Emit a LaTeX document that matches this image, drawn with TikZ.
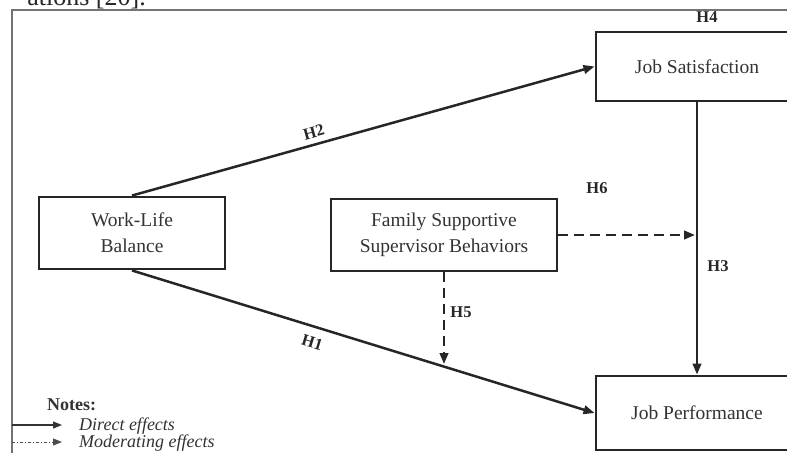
\documentclass[tikz,border=0pt]{standalone}
\usepackage{fontspec}
\setmainfont{Liberation Serif}
\usetikzlibrary{arrows.meta}
\tikzset{
  box/.style={draw=black!85, line width=2.9pt, inner sep=0pt, align=center, font=\fontsize{19.5}{26}\selectfont, text=black!80},
  conn/.style={line width=2.5pt, draw=black!85, -{Triangle[length=11pt,width=8.5pt]}},
  modconn/.style={conn, dash pattern=on 10pt off 6pt},
  hlab/.style={font=\bfseries\fontsize{16.5}{16.5}\selectfont, text=black!85},
  frame/.style={draw=black!55, line width=1.4pt},
  note/.style={font=\itshape\fontsize{18}{18}\selectfont, text=black!80, anchor=west}
}
\begin{document}
\begin{tikzpicture}[x=1pt,y=-1pt]
\useasboundingbox (0,0) rectangle (787,453);
\clip (0,0) rectangle (787,453);
\fill[white] (0,0) rectangle (787,453);
% fragment of surrounding text
\node[anchor=base east, font=\fontsize{26}{26}\selectfont, inner sep=0pt, text=black!85] (frag) at (146,5) {ations [20].};
% frame
\coordinate (fr0) at (12,453);
\coordinate (fr1) at (12,10);
\coordinate (fr2) at (787,10);
\draw[frame] (fr0) -- (fr1) -- (fr2);
% boxes
\node[box, minimum width=186pt, minimum height=72pt] (wlb) at (132,233) {Work-Life\\Balance};
\node[box, minimum width=226pt, minimum height=72pt] (fssb) at (444,235) {Family Supportive\\Supervisor Behaviors};
\node[box, minimum width=202pt, minimum height=69pt] (js) at (697,66.5) {Job Satisfaction};
\node[box, minimum width=202pt, minimum height=74pt] (jp) at (697,413) {Job Performance};
% connectors
\draw[conn] (wlb.north) -- node[pos=0.4, above, sloped, hlab, yshift=2pt] (h2) {H2} (js.west);
\draw[conn] (wlb.south) -- node[pos=0.4, below, sloped, hlab, yshift=-6pt] (h1) {H1} (jp.west);
\draw[conn] (js.south) -- (jp.north);
\coordinate (m6) at (695,235);
\draw[modconn] (fssb.east) -- (m6);
\coordinate (m5) at (444,364);
\draw[modconn] (fssb.south) -- (m5);
% labels
\node[hlab] (h4) at (707,17) {H4};
\node[hlab] (h6) at (597,188) {H6};
\node[hlab] (h3) at (718,266) {H3};
\node[hlab] (h5) at (461,312) {H5};
% notes
\node[anchor=west, font=\bfseries\fontsize{18}{18}\selectfont, text=black!80, inner sep=0pt] (notes) at (47,405) {Notes:};
\coordinate (l1a) at (12,425);
\coordinate (l1b) at (62,425);
\draw[line width=1.2pt, draw=black!80, -{Triangle[length=9pt,width=7pt]}] (l1a) -- (l1b);
\node[note, inner sep=0pt] (direct) at (79,426) {Direct effects};
\coordinate (l2a) at (12,442);
\coordinate (l2b) at (62,442);
\draw[line width=1.0pt, draw=black!70, dash pattern=on 3pt off 2pt on 1pt off 2pt, -{Triangle[length=9pt,width=7pt]}] (l2a) -- (l2b);
\node[note, inner sep=0pt] (moder) at (79,443) {Moderating effects};
\end{tikzpicture}
\end{document}
